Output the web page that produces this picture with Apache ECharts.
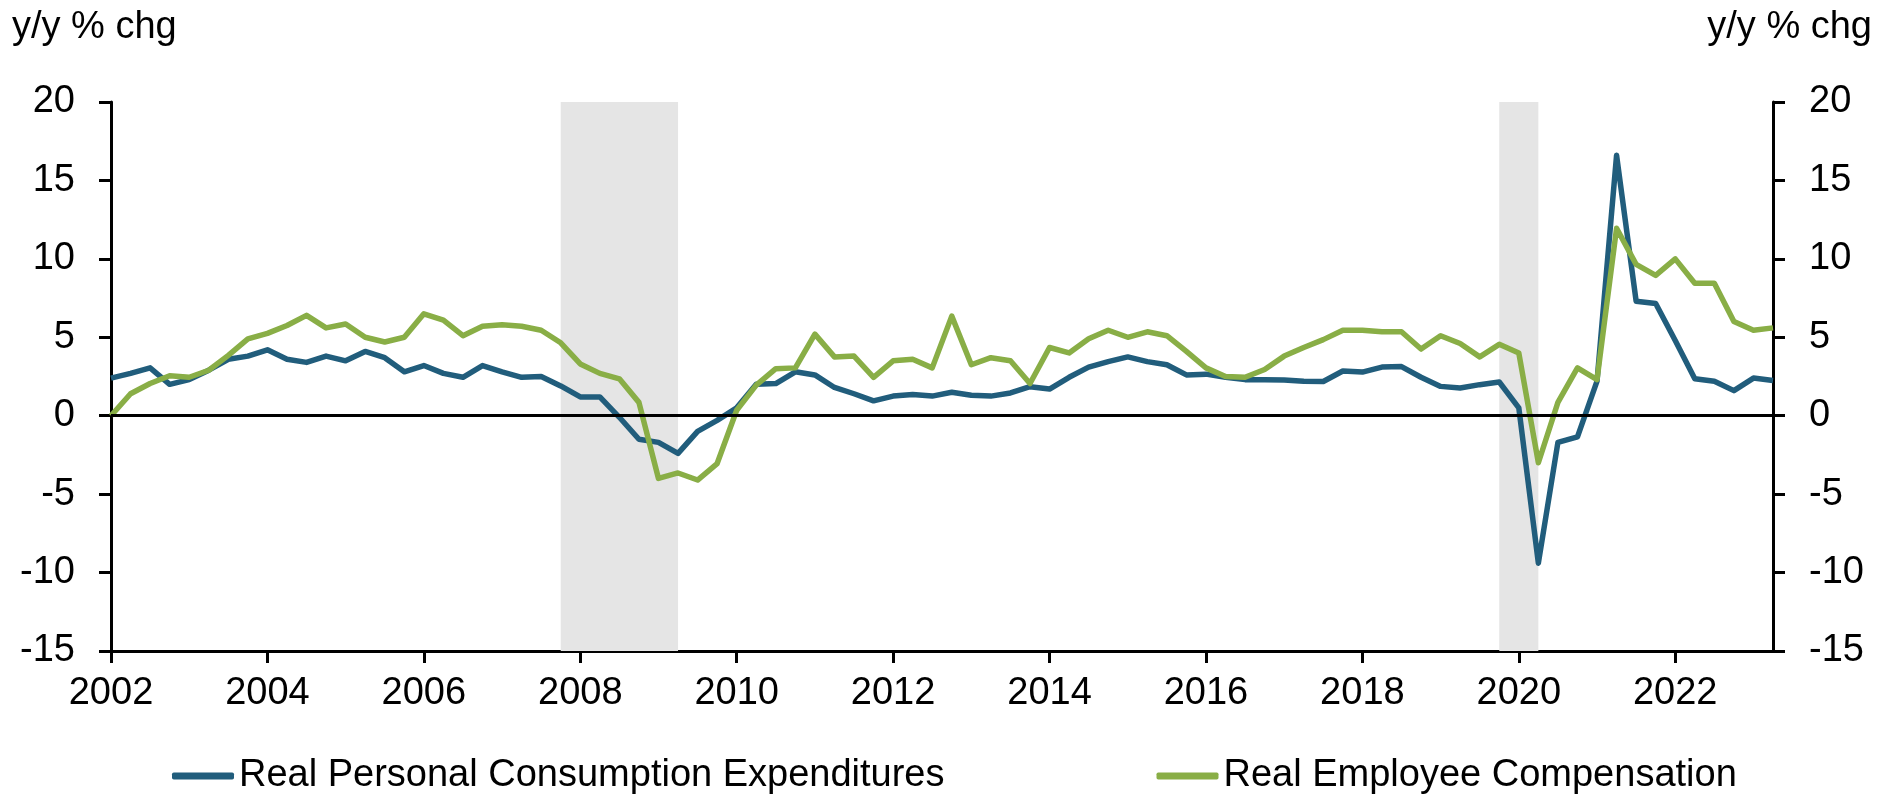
<!DOCTYPE html>
<html>
<head>
<meta charset="utf-8">
<script src="https://cdn.jsdelivr.net/npm/echarts@6/dist/echarts.min.js"></script>
<style>
* { margin: 0; padding: 0; }
#chart-container { width: 1892px; height: 796px; background: #fff; }
</style>
</head>
<body>
<div id="chart-container"></div>
<script>
// quarterly, 2002 Q1 .. 2023 Q2
const quarters = []
for (let y = 2002; y <= 2023; y++) {
  for (let q = 1; q <= 4; q++) {
    if (y === 2023 && q > 2) break
    quarters.push(y + ' Q' + q)
  }
}

const pce = [
  2.4, 2.7, 3.05, 2.0, 2.3, 2.9, 3.6, 3.8, 4.2, 3.6,
  3.4, 3.8, 3.5, 4.1, 3.7, 2.8, 3.2, 2.7, 2.45, 3.2,
  2.8, 2.45, 2.5, 1.9, 1.2, 1.2, -0.1, -1.5, -1.7, -2.4,
  -1.0, -0.3, 0.5, 2.0, 2.05, 2.8, 2.6, 1.8, 1.4, 0.95,
  1.25, 1.35, 1.25, 1.5, 1.3, 1.25, 1.45, 1.85, 1.7, 2.45,
  3.1, 3.45, 3.75, 3.45, 3.25, 2.6, 2.65, 2.45, 2.3, 2.3,
  2.28, 2.2, 2.18, 2.85, 2.78, 3.1, 3.13, 2.45, 1.87, 1.77,
  1.98, 2.15, 0.5, -9.4, -1.7, -1.35, 2.2, 16.6, 7.3, 7.15,
  4.8, 2.35, 2.2, 1.6, 2.4, 2.25
]

const compensation = [
  0.0, 1.4, 2.05, 2.55, 2.45, 2.9, 3.85, 4.9, 5.25, 5.75,
  6.4, 5.6, 5.85, 5.0, 4.7, 5.0, 6.5, 6.1, 5.1, 5.7,
  5.8, 5.7, 5.45, 4.65, 3.3, 2.7, 2.35, 0.85, -4.0, -3.65,
  -4.1, -3.05, 0.35, 1.95, 3.0, 3.05, 5.2, 3.75, 3.8, 2.45,
  3.5, 3.6, 3.05, 6.35, 3.25, 3.7, 3.5, 2.05, 4.35, 4.0,
  4.9, 5.45, 5.0, 5.35, 5.1, 4.1, 3.05, 2.5, 2.45, 2.95,
  3.8, 4.35, 4.85, 5.45, 5.45, 5.35, 5.35, 4.25, 5.1, 4.6,
  3.75, 4.55, 4.0, -3.0, 0.85, 3.05, 2.3, 11.95, 9.65, 8.95,
  10.0, 8.45, 8.45, 6.0, 5.45, 5.6
]

const recessions = [
  ['2007 Q4', '2009 Q2'],
  ['2019 Q4', '2020 Q2']
]

const yMin = -15
const yMax = 20
const yStep = 5

const FONT = "'Liberation Sans', Arial, sans-serif"
const FS = 38

const chartDom = document.getElementById('chart-container')
const myChart = echarts.init(chartDom, null, { renderer: 'canvas' })

const yAxisBase = {
  type: 'value',
  min: yMin,
  max: yMax,
  interval: yStep,
  axisLine: { show: true, lineStyle: { color: '#000', width: 3 } },
  axisTick: { show: true, inside: false, length: 12, lineStyle: { color: '#000', width: 3 } },
  axisLabel: { color: '#000', fontSize: FS, fontFamily: FONT, margin: 36 },
  splitLine: { show: false }
}

const option = {
  animation: false,
  backgroundColor: '#fff',
  title: [
    {
      text: 'y/y % chg',
      left: 12,
      top: 9,
      padding: 0,
      textStyle: { color: '#000', fontSize: FS, fontWeight: 'normal', fontFamily: FONT }
    },
    {
      text: 'y/y % chg',
      right: 20,
      top: 9,
      padding: 0,
      textStyle: { color: '#000', fontSize: FS, fontWeight: 'normal', fontFamily: FONT }
    }
  ],
  legend: {
    left: 167,
    top: 752,
    itemWidth: 62,
    itemHeight: 7,
    itemGap: 212,
    icon: 'roundRect',
    textStyle: { color: '#000', fontSize: FS, fontFamily: FONT },
    data: ['Real Personal Consumption Expenditures', 'Real Employee Compensation']
  },
  grid: {
    left: 111,
    right: 119,
    top: 102,
    bottom: 145,
    containLabel: false
  },
  xAxis: {
    type: 'category',
    data: quarters,
    boundaryGap: false,
    axisLine: { onZero: false, lineStyle: { color: '#000', width: 3 } },
    axisTick: { show: true, interval: 7, length: 12, lineStyle: { color: '#000', width: 3 } },
    axisLabel: {
      interval: 7,
      color: '#000',
      fontSize: FS,
      fontFamily: FONT,
      margin: 24,
      formatter: (v) => v.slice(0, 4)
    },
    splitLine: { show: false }
  },
  yAxis: [
    Object.assign({}, yAxisBase, { position: 'left' }),
    Object.assign({}, yAxisBase, { position: 'right' })
  ],
  series: [
    {
      name: 'bands',
      type: 'line',
      data: [],
      silent: true,
      z: 1,
      markArea: {
        silent: true,
        itemStyle: { color: '#E5E5E5' },
        data: recessions.map(r => [{ xAxis: r[0] }, { xAxis: r[1] }])
      },
      markLine: {
        silent: true,
        symbol: ['none', 'none'],
        label: { show: false },
        lineStyle: { color: '#000', width: 3, type: 'solid' },
        data: [{ yAxis: 0 }]
      }
    },
    {
      name: 'Real Personal Consumption Expenditures',
      type: 'line',
      data: pce,
      symbol: 'none',
      z: 3,
      itemStyle: { color: '#215D7C' },
      lineStyle: { color: '#215D7C', width: 5.5, join: 'round' }
    },
    {
      name: 'Real Employee Compensation',
      type: 'line',
      data: compensation,
      symbol: 'none',
      z: 3,
      itemStyle: { color: '#89AE46' },
      lineStyle: { color: '#89AE46', width: 5.5, join: 'round' }
    }
  ]
}

myChart.setOption(option)
</script>
</body>
</html>
